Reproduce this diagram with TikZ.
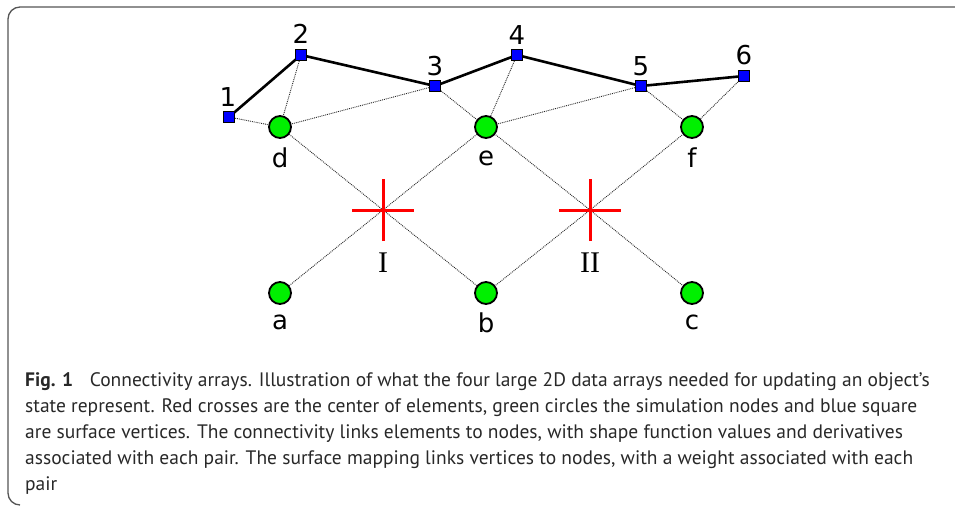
\documentclass[tikz,border=0pt]{standalone}
\usepackage{fontspec}
\setmainfont{DejaVu Sans}
\newfontfamily\capfont{PT Sans}
\newfontfamily\romfont{Liberation Serif}
\usetikzlibrary{backgrounds}

\definecolor{vertblue}{RGB}{0,0,255}
\definecolor{nodegreen}{RGB}{0,240,0}
\definecolor{framegray}{RGB}{85,85,85}
\definecolor{captext}{RGB}{40,40,40}

\begin{document}
\begin{tikzpicture}[x=1pt,y=-1pt,
    vert/.style={draw=black,fill=vertblue,line width=1.2pt,minimum size=11pt,inner sep=0pt},
    simnode/.style={circle,draw=black,fill=nodegreen,line width=1.8pt,minimum size=22pt,inner sep=0pt},
    lab/.style={font=\fontsize{26}{26}\selectfont,inner sep=0pt},
    elab/.style={font=\romfont\fontsize{30}{30}\selectfont,inner sep=0pt},
    link/.style={densely dotted,line width=0.9pt,black!85},
    surf/.style={line width=2.6pt},
    crossline/.style={red,line width=3pt},
    captionline/.style={anchor=base west,inner sep=0pt,text=captext,font=\capfont\fontsize{19.5}{26}\selectfont}]
    \useasboundingbox (0,0) rectangle (955,506);

    % frame
    \draw[framegray,line width=1.3pt,rounded corners=12pt] (960,7) -- (8,7) -- (8,505) -- (20,505);

    % surface vertices
    \node[vert] (v1) at (229,117) {};
    \node[vert] (v2) at (301,55) {};
    \node[vert] (v3) at (435,86) {};
    \node[vert] (v4) at (517,55) {};
    \node[vert] (v5) at (641,86) {};
    \node[vert] (v6) at (744,76) {};
    \node[lab] (l1) at (228,97) {1};
    \node[lab] (l2) at (301,34) {2};
    \node[lab] (l3) at (435,66) {3};
    \node[lab] (l4) at (517,35) {4};
    \node[lab] (l5) at (641,66) {5};
    \node[lab] (l6) at (744,55) {6};

    % simulation nodes
    \node[simnode] (d) at (280,127) {};
    \node[simnode] (e) at (486,127) {};
    \node[simnode] (f) at (692,127) {};
    \node[simnode] (a) at (280,293) {};
    \node[simnode] (b) at (486,293) {};
    \node[simnode] (c) at (692,293) {};
    \node[lab] (ld) at (280,158) {d};
    \node[lab] (le) at (486,158) {e};
    \node[lab] (lf) at (692,158) {f};
    \node[lab] (la) at (280,322) {a};
    \node[lab] (lb) at (486,323) {b};
    \node[lab] (lc) at (692,322) {c};

    % elements
    \coordinate (I) at (383,210);
    \coordinate (II) at (590,210);
    \node[elab] (lI) at (383,263) {I};
    \node[elab] (lII) at (590,263) {II};

    \begin{scope}[on background layer]
        \draw[link] (I) -- (a);
        \draw[link] (I) -- (b);
        \draw[link] (I) -- (d);
        \draw[link] (I) -- (e);
        \draw[link] (II) -- (b);
        \draw[link] (II) -- (c);
        \draw[link] (II) -- (e);
        \draw[link] (II) -- (f);

        \draw[link] (v1) -- (d);
        \draw[link] (v2) -- (d);
        \draw[link] (v3) -- (d);
        \draw[link] (v3) -- (e);
        \draw[link] (v4) -- (e);
        \draw[link] (v5) -- (e);
        \draw[link] (v5) -- (f);
        \draw[link] (v6) -- (f);

        \draw[surf] (v1.center) -- (v2.center) -- (v3.center) -- (v4.center) -- (v5.center) -- (v6.center);
    \end{scope}

    \draw[crossline] ([xshift=-31pt]I) -- ([xshift=31pt]I);
    \draw[crossline] ([yshift=-31pt]I) -- ([yshift=31pt]I);
    \draw[crossline] ([xshift=-31pt]II) -- ([xshift=31pt]II);
    \draw[crossline] ([yshift=-31pt]II) -- ([yshift=31pt]II);

    % caption
    \node[captionline] (cap1) at (25,386) {\textbf{Fig. 1}\hspace{0.85em}Connectivity arrays. Illustration of what the four large 2D data arrays needed for updating an object’s};
    \node[captionline] (cap2) at (25,412) {state represent. Red crosses are the center of elements, green circles the simulation nodes and blue square};
    \node[captionline] (cap3) at (25,438) {are surface vertices. The connectivity links elements to nodes, with shape function values and derivatives};
    \node[captionline] (cap4) at (25,464) {associated with each pair. The surface mapping links vertices to nodes, with a weight associated with each};
    \node[captionline] (cap5) at (25,490) {pair};
\end{tikzpicture}
\end{document}
